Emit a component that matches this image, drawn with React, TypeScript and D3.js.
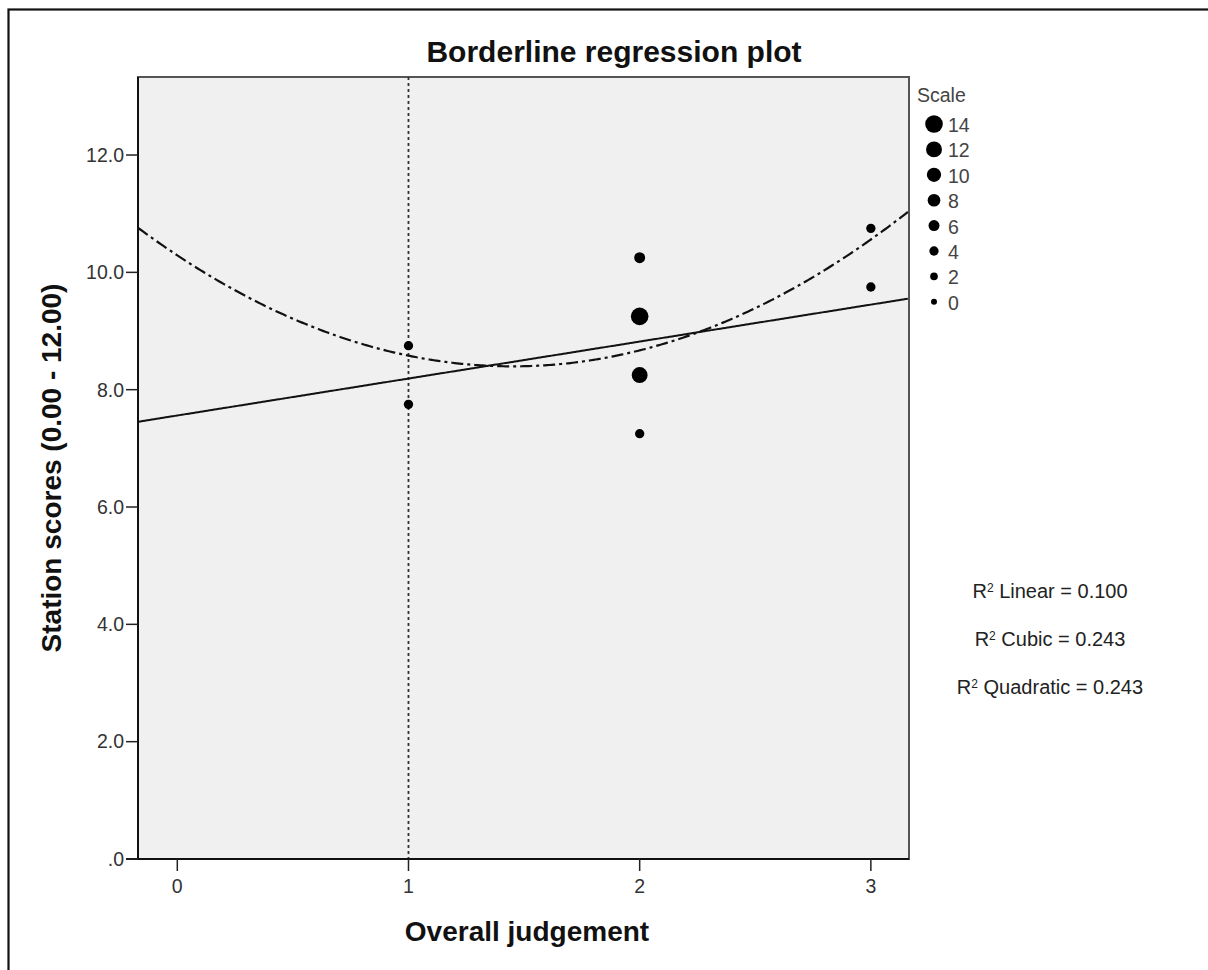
import React from 'react';
import * as d3 from 'd3';

// points (overall judgement, station score, count)
const judgements = [1, 1, 2, 2, 2, 2, 3, 3];
const scores = [8.75, 7.75, 10.25, 9.25, 8.25, 7.25, 10.75, 9.75];
const counts = [4, 4, 6, 14, 12, 4, 4, 4];

const xTicks = [0, 1, 2, 3];
const yTicks = [0, 2, 4, 6, 8, 10, 12];
const legendCounts = [14, 12, 10, 8, 6, 4, 2, 0];

// fitted curves (intercept, x, x^2)
const linearCoef = [7.56, 0.63];
const quadraticCoef = [10.29, -2.61, 0.9];
const cutScore = 1;

const fitLabels = ['Linear = 0.100', 'Cubic = 0.243', 'Quadratic = 0.243'];

const W = 1208;
const H = 970;
const plot = { left: 138, top: 77, right: 909, bottom: 859 };
const FONT = '"Liberation Sans", Arial, sans-serif';

const App = () => {
  const x = d3.scaleLinear().domain([-0.17, 3.165]).range([plot.left, plot.right]);
  const y = d3.scaleLinear().domain([0, 13.33]).range([plot.bottom, plot.top]);
  const r = d3.scaleLinear().domain([0, 14]).range([3, 8.8]);

  const xs = d3.range(-0.17, 3.17, 0.01);
  const line = d3.line<number[]>().x(d => x(d[0])).y(d => y(d[1]));
  const linearPath = line(xs.map(v => [v, linearCoef[0] + linearCoef[1] * v]));
  const quadPath = line(xs.map(v => [v, quadraticCoef[0] + quadraticCoef[1] * v + quadraticCoef[2] * v * v]));

  const legendY = (i: number) => 124 + i * 25.4;

  return (
    <svg width={W} height={H} style={{ position: 'absolute', left: 0, top: 0, background: '#fff' }}
      fontFamily={FONT}>
      {/* outer frame */}
      <rect x={8.5} y={9.5} width={1300} height={1100} fill="none" stroke="#111" strokeWidth={2.2} />

      <defs>
        <clipPath id="plotClip">
          <rect x={plot.left} y={plot.top} width={plot.right - plot.left} height={plot.bottom - plot.top} />
        </clipPath>
      </defs>

      {/* plot background */}
      <rect x={plot.left} y={plot.top} width={plot.right - plot.left} height={plot.bottom - plot.top}
        fill="#f0f0f0" stroke="#555" strokeWidth={2} />

      <g clipPath="url(#plotClip)">
        <line x1={x(cutScore)} x2={x(cutScore)} y1={plot.top} y2={plot.bottom}
          stroke="#333" strokeWidth={1.8} strokeDasharray="3,3" />
        <path d={linearPath || ''} fill="none" stroke="#111" strokeWidth={2} />
        <path d={quadPath || ''} fill="none" stroke="#111" strokeWidth={2.2} strokeDasharray="12,4,3,4" />
        {judgements.map((j, i) => (
          <circle key={i} cx={x(j)} cy={y(scores[i])} r={r(counts[i])} fill="#000" />
        ))}
      </g>

      {/* axes */}
      <line x1={plot.left} x2={plot.left} y1={plot.top} y2={plot.bottom} stroke="#111" strokeWidth={2} />
      <line x1={plot.left - 12} x2={plot.right} y1={plot.bottom} y2={plot.bottom} stroke="#111" strokeWidth={2} />

      {yTicks.map(t => (
        <g key={t}>
          <line x1={plot.left - 12} x2={plot.left} y1={y(t)} y2={y(t)} stroke="#222" strokeWidth={1.5} />
          <text x={plot.left - 14} y={y(t)} dy="0.35em" textAnchor="end" fontSize={19.5} fill="#333">
            {t === 0 ? '.0' : t.toFixed(1)}
          </text>
        </g>
      ))}
      {xTicks.map(t => (
        <g key={t}>
          <line x1={x(t)} x2={x(t)} y1={plot.bottom} y2={plot.bottom + 12} stroke="#222" strokeWidth={1.5} />
          <text x={x(t)} y={plot.bottom + 34} textAnchor="middle" fontSize={19.5} fill="#333">{t}</text>
        </g>
      ))}

      {/* titles */}
      <text x={614} y={62} textAnchor="middle" fontSize={30} fontWeight="bold" fill="#111">
        Borderline regression plot
      </text>
      <text x={527} y={941} textAnchor="middle" fontSize={28} fontWeight="bold" fill="#111">
        Overall judgement
      </text>
      <text transform={`translate(61,${(plot.top + plot.bottom) / 2}) rotate(-90)`} textAnchor="middle"
        fontSize={28} fontWeight="bold" fill="#111">
        Station scores (0.00 - 12.00)
      </text>

      {/* size legend */}
      <text x={917} y={102} fontSize={19.5} fill="#444">Scale</text>
      {legendCounts.map((c, i) => (
        <g key={c}>
          <circle cx={934} cy={legendY(i)} r={r(c)} fill="#000" />
          <text x={948} y={legendY(i) + 8} fontSize={19.5} fill="#444">{c}</text>
        </g>
      ))}

      {/* R squared */}
      {fitLabels.map((l, i) => (
        <text key={l} x={1050} y={598 + i * 48} textAnchor="middle" fontSize={20} fill="#222">
          R<tspan fontSize={12} dy={-6}>2</tspan><tspan dy={6}> {l}</tspan>
        </text>
      ))}
    </svg>
  );
};

export default App;
